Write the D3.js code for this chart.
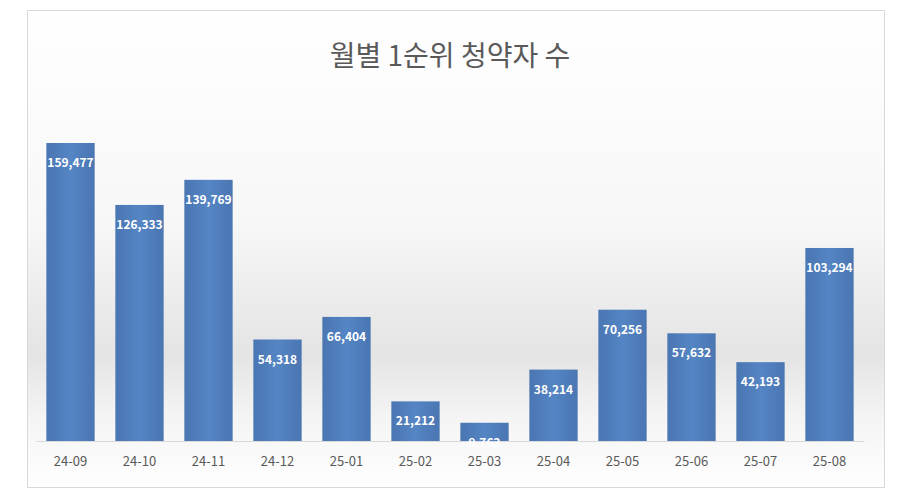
<!DOCTYPE html>
<html><head><meta charset="utf-8">
<script src="https://cdn.jsdelivr.net/npm/d3@7"></script>
<style>body{margin:0;background:#fff;font-family:"Noto Sans CJK KR","Noto Sans",sans-serif;}</style>
</head><body><div id="chart_div"></div>
<script>
var months = ["24-09","24-10","24-11","24-12","25-01","25-02","25-03","25-04","25-05","25-06","25-07","25-08"];
var applicants = [159477,126333,139769,54318,66404,21212,9762,38214,70256,57632,42193,103294];
var chartTitle = "월별 1순위 청약자 수";

var width = 900, height = 504;
var svg = d3.select("#chart_div").append("svg")
    .attr("width", width).attr("height", height);

var defs = svg.append("defs");
var bg = defs.append("linearGradient").attr("id","bg").attr("x1",0).attr("x2",0).attr("y1",0).attr("y2",1);
bg.append("stop").attr("offset","0%").attr("stop-color","#ffffff");
bg.append("stop").attr("offset","45%").attr("stop-color","#f7f7f7");
bg.append("stop").attr("offset","72%").attr("stop-color","#e4e4e4");
bg.append("stop").attr("offset","85%").attr("stop-color","#f4f4f4");
bg.append("stop").attr("offset","100%").attr("stop-color","#ffffff");
var bar = defs.append("linearGradient").attr("id","bar").attr("x1",0).attr("x2",1).attr("y1",0).attr("y2",0);
bar.append("stop").attr("offset","0%").attr("stop-color","#4a76b2");
bar.append("stop").attr("offset","50%").attr("stop-color","#5585c4");
bar.append("stop").attr("offset","100%").attr("stop-color","#4a76b2");

// frame
svg.append("rect").attr("x",27.5).attr("y",10.5).attr("width",857).attr("height",477)
    .attr("fill","url(#bg)").attr("stroke","#d9d9d9");

svg.append("text").attr("x",450).attr("y",66).attr("text-anchor","middle")
    .attr("fill","#595959").style("font-size","28px").text(chartTitle);

var x = d3.scaleBand().domain(months).range([36, 864]).paddingInner(0.3).paddingOuter(0.15);
var y = d3.scaleLinear().domain([0, 159477]).range([441, 143]);

svg.append("g").attr("transform","translate(0,441)")
    .call(d3.axisBottom(x).tickSize(0).tickPadding(16))
    .call(g => g.select(".domain").attr("stroke","#d9d9d9"))
    .call(g => g.selectAll("text").attr("fill","#595959").style("font-size","13px")
        .style("font-family","'Noto Sans CJK KR',sans-serif"));

var data = months.map((m,i) => ({m: m, v: applicants[i]}));

svg.append("g").selectAll("rect").data(data).join("rect")
    .attr("x", d => x(d.m)).attr("width", x.bandwidth())
    .attr("y", d => y(d.v)).attr("height", d => y(0) - y(d.v))
    .attr("fill","url(#bar)");

svg.append("g").selectAll("text").data(data).join("text")
    .attr("x", d => x(d.m) + x.bandwidth()/2)
    .attr("y", d => y(d.v) + 24)
    .attr("text-anchor","middle").attr("fill","#fff")
    .style("font-size","12px").style("font-weight","bold")
    .text(d => d3.format(",")(d.v));
</script>
</body></html>
